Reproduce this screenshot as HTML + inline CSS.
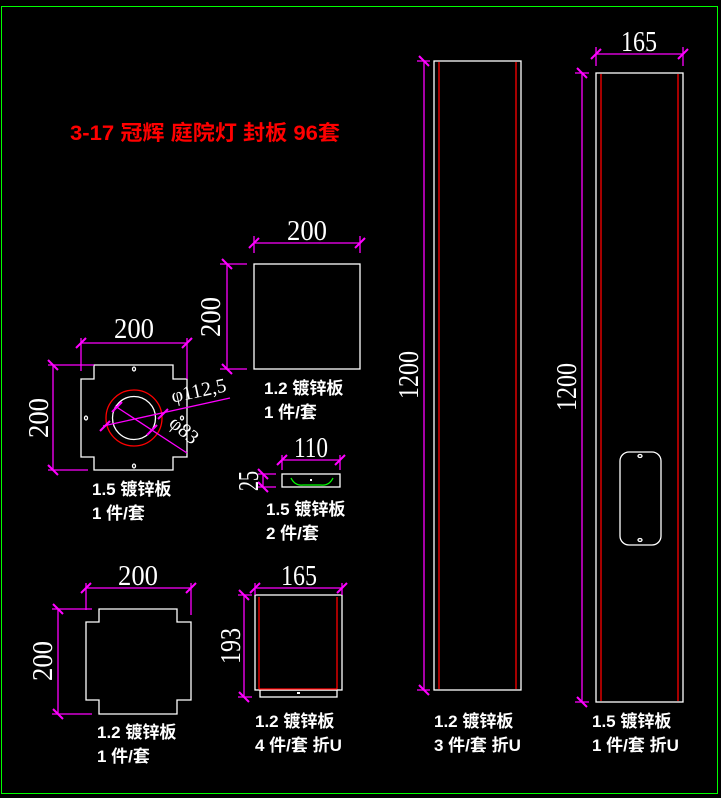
<!DOCTYPE html>
<html><head><meta charset="utf-8"><style>
html,body{margin:0;padding:0;background:#000;}
svg{display:block}
.l{font-family:"Liberation Sans","Noto Sans CJK SC",sans-serif;font-size:17px;fill:#fff;font-weight:bold}
.d{font-family:"Liberation Serif",serif;font-size:29px;fill:#fff}
</style></head><body>
<svg width="721" height="798" viewBox="0 0 721 798" xmlns="http://www.w3.org/2000/svg">
<defs><g id="t"><line x1="-5" y1="5" x2="5" y2="-5" stroke="#f0f" stroke-width="2"/></g>
<g id="v"><line x1="-5" y1="-5" x2="5" y2="5" stroke="#f0f" stroke-width="2"/></g></defs>
<rect x="1.5" y="6.5" width="716" height="787" fill="none" stroke="#0f0" stroke-width="1"/>
<text x="70" y="140" font-family="'Liberation Sans','Noto Sans CJK SC',sans-serif" font-size="21" font-weight="bold" fill="#f00" textLength="270" lengthAdjust="spacingAndGlyphs">3-17 冠辉 庭院灯 封板 96套</text>

<g fill="none" stroke="#fff" stroke-width="1.3">
<rect x="254" y="264" width="106" height="105"/>
<path d="M94 365H173V379H187V457H173V470H94V457H81V379H94Z"/>
<circle cx="134" cy="418" r="21.5"/>
<rect x="282" y="474" width="58" height="13"/>
<rect x="255" y="595" width="87" height="95"/>
<rect x="260" y="690" width="77" height="7"/>
<path d="M99 609H177V622H191V700H177V714H99V700H86V622H99Z"/>
<rect x="434" y="61" width="87" height="629"/>
<rect x="596" y="73" width="87" height="629"/>
<rect x="620" y="452" width="41" height="93" rx="9"/>
<ellipse cx="640" cy="456" rx="2" ry="1.5"/><ellipse cx="640" cy="540" rx="2" ry="1.5"/>
<ellipse cx="134" cy="369" rx="1.5" ry="2"/><ellipse cx="134" cy="466" rx="1.5" ry="2"/>
<ellipse cx="86" cy="418" rx="1.5" ry="2"/><ellipse cx="182" cy="418" rx="1.5" ry="2"/>
</g>
<circle cx="134" cy="418" r="28" fill="none" stroke="#f00" stroke-width="1.3"/>
<path d="M291 478Q295 486 303 485H321Q329 486 333 478" fill="none" stroke="#0f0" stroke-width="1.3"/>
<rect x="310" y="479" width="2" height="2" fill="#fff"/>
<rect x="297" y="692" width="3" height="2" fill="#fff"/>
<g stroke="#f00" stroke-width="1.3">
<line x1="259" y1="597" x2="259" y2="689"/><line x1="337" y1="597" x2="337" y2="689"/><line x1="259" y1="689" x2="337" y2="689"/>
<line x1="439" y1="62" x2="439" y2="689"/><line x1="516" y1="62" x2="516" y2="689"/>
<line x1="601" y1="74" x2="601" y2="701"/><line x1="678" y1="74" x2="678" y2="701"/>
</g>

<g stroke="#f0f" stroke-width="1.3" fill="none">
<path d="M254 243H360M254 236V253M360 236V253M227 264V369M220 264H247M220 369H247"/>
<path d="M81 343H187M81 338V371M187 338V379M53 365V470M48 365H94M48 470H88"/>
<path d="M103 426L230 398M115 406L187 453"/>
<path d="M282 460H340M282 455V470M340 455V470M263 474V487M258 474H276M258 487H276"/>
<path d="M255 588H342M255 583V595M342 583V595M244 595V697M238 595H252M238 697H252"/>
<path d="M86 588H191M86 583V610M191 583V615M58 609V714M52 609H92M52 714H92"/>
<path d="M424 61V690M417 61H430M417 690H430"/>
<path d="M582 73V702M575 73H589M575 702H589M596 54H683M596 47V66M683 47V66"/>
</g>
<g>
<use href="#t" x="254" y="243"/><use href="#t" x="360" y="243"/><use href="#v" x="227" y="264"/><use href="#v" x="227" y="369"/>
<use href="#t" x="81" y="343"/><use href="#t" x="187" y="343"/><use href="#v" x="53" y="365"/><use href="#v" x="53" y="470"/>
<use href="#t" x="105" y="426"/><use href="#t" x="163" y="414"/><use href="#t" x="117" y="407"/><use href="#t" x="152" y="430"/>
<use href="#t" x="282" y="460"/><use href="#t" x="340" y="460"/><use href="#v" x="263" y="474"/><use href="#v" x="263" y="487"/>
<use href="#t" x="255" y="588"/><use href="#t" x="342" y="588"/><use href="#v" x="244" y="595"/><use href="#v" x="244" y="697"/>
<use href="#t" x="86" y="588"/><use href="#t" x="191" y="588"/><use href="#v" x="58" y="609"/><use href="#v" x="58" y="714"/>
<use href="#v" x="424" y="61"/><use href="#v" x="424" y="690"/><use href="#v" x="582" y="73"/><use href="#v" x="582" y="702"/>
<use href="#t" x="596" y="54"/><use href="#t" x="683" y="54"/>
</g>

<g class="d" text-anchor="middle">
<text x="307" y="240" textLength="40" lengthAdjust="spacingAndGlyphs">200</text>
<text x="134" y="338" textLength="40" lengthAdjust="spacingAndGlyphs">200</text>
<text x="311" y="457" textLength="34" lengthAdjust="spacingAndGlyphs">110</text>
<text x="299" y="585" textLength="36" lengthAdjust="spacingAndGlyphs">165</text>
<text x="138" y="585" textLength="40" lengthAdjust="spacingAndGlyphs">200</text>
<text x="639" y="51" textLength="36" lengthAdjust="spacingAndGlyphs">165</text>
<text transform="translate(220,317) rotate(-90)" textLength="40" lengthAdjust="spacingAndGlyphs">200</text>
<text transform="translate(48,418) rotate(-90)" textLength="40" lengthAdjust="spacingAndGlyphs">200</text>
<text transform="translate(258,481) rotate(-90)" textLength="20" lengthAdjust="spacingAndGlyphs">25</text>
<text transform="translate(240,646) rotate(-90)" textLength="36" lengthAdjust="spacingAndGlyphs">193</text>
<text transform="translate(52,661) rotate(-90)" textLength="40" lengthAdjust="spacingAndGlyphs">200</text>
<text transform="translate(418,375) rotate(-90)" textLength="48" lengthAdjust="spacingAndGlyphs">1200</text>
<text transform="translate(576,387) rotate(-90)" textLength="48" lengthAdjust="spacingAndGlyphs">1200</text>
<text transform="translate(200,397) rotate(-12)" font-size="20">φ112,5</text>
<text transform="translate(180,435) rotate(40)" font-size="20">φ83</text>
</g>

<g class="l">
<text x="264" y="394">1.2 镀锌板</text><text x="264" y="418">1 件/套</text>
<text x="92" y="495">1.5 镀锌板</text><text x="92" y="519">1 件/套</text>
<text x="266" y="515">1.5 镀锌板</text><text x="266" y="539">2 件/套</text>
<text x="97" y="738">1.2 镀锌板</text><text x="97" y="762">1 件/套</text>
<text x="255" y="727">1.2 镀锌板</text><text x="255" y="751">4 件/套 折U</text>
<text x="434" y="727">1.2 镀锌板</text><text x="434" y="751">3 件/套 折U</text>
<text x="592" y="727">1.5 镀锌板</text><text x="592" y="751">1 件/套 折U</text>
</g>
</svg>
</body></html>
